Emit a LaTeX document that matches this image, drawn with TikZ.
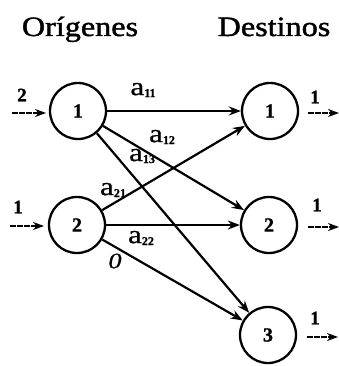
\documentclass[tikz,border=0pt]{standalone}
\usepackage{fontspec}
\setmainfont{Liberation Serif}
\newfontfamily\titlefont[FakeStretch=1.15,FakeBold=1.5]{Liberation Serif}
\newfontfamily\digitfont[FakeBold=1.2]{Liberation Serif}
\newfontfamily\labfont[FakeBold=0.8,FakeStretch=1.2]{Liberation Serif}
\usetikzlibrary{arrows.meta}
\begin{document}
\begin{tikzpicture}[x=1pt,y=-1pt,
  titletext/.style={font=\titlefont\fontsize{28}{30}\selectfont, anchor=base, inner sep=0},
  vertex/.style={circle, draw, line width=2.3pt, minimum size=56pt, inner sep=0,
    font=\digitfont\bfseries\fontsize{20}{20}\selectfont},
  flowlab/.style={font=\digitfont\bfseries\fontsize{19}{19}\selectfont, inner sep=0},
  costlab/.style={font=\labfont\fontsize{26}{26}\selectfont, inner sep=0},
  edge/.style={line width=2.2pt, -{Stealth[length=12pt,width=9pt]}},
  extarrow/.style={line width=2.2pt, dash pattern=on 6pt off 1pt, -{Stealth[length=11pt,width=8pt]}}
]
\useasboundingbox (0,0) rectangle (339,366);
\newcommand{\asub}[1]{a\raisebox{-2pt}{\digitfont\bfseries\fontsize{12}{12}\selectfont #1}}
% titles
\node[titletext] (to) at (80,36) {Orígenes};
\node[titletext] (td) at (274,36) {Destinos};
% nodes
\node[vertex] (o1) at (78,111) {1};
\node[vertex] (o2) at (77,225) {2};
\node[vertex] (d1) at (270,111) {1};
\node[vertex] (d2) at (269,225) {2};
\node[vertex] (d3) at (268,335) {3};
% edges
\draw[edge] (o1) -- (d1);
\draw[edge] (o1) -- (d2);
\draw[edge] (o1) -- (d3);
\draw[edge] (o2) -- (d1);
\draw[edge] (o2) -- (d2);
\draw[edge] (o2) -- (d3);
% edge labels
\node[costlab] (l11) at (143,90) {\asub{11}};
\node[costlab] (l12) at (162,137) {\asub{12}};
\node[costlab] (l13) at (142,156) {\asub{13}};
\node[costlab] (l21) at (113,190) {\asub{21}};
\node[costlab] (l22) at (141,238) {\asub{22}};
\node[costlab, font=\labfont\itshape\fontsize{22}{22}\selectfont] (l0) at (115,261) {0};
% supply arrows
\coordinate (s1) at (12,113);
\coordinate (s2) at (10,226);
\coordinate (e1) at (46,113);
\coordinate (e2) at (44,226);
\draw[extarrow] (s1) -- (e1);
\draw[extarrow] (s2) -- (e2);
\node[flowlab] (sl1) at (22,95) {2};
\node[flowlab] (sl2) at (18,207) {1};
% demand arrows
\coordinate (f1) at (308,113);
\coordinate (f2) at (308,227);
\coordinate (f3) at (307,337);
\coordinate (g1) at (339,113);
\coordinate (g2) at (339,227);
\coordinate (g3) at (338,337);
\draw[extarrow] (f1) -- (g1);
\draw[extarrow] (f2) -- (g2);
\draw[extarrow] (f3) -- (g3);
\node[flowlab] (dl1) at (315,97) {1};
\node[flowlab] (dl2) at (317,205) {1};
\node[flowlab] (dl3) at (315,318) {1};
\end{tikzpicture}
\end{document}
